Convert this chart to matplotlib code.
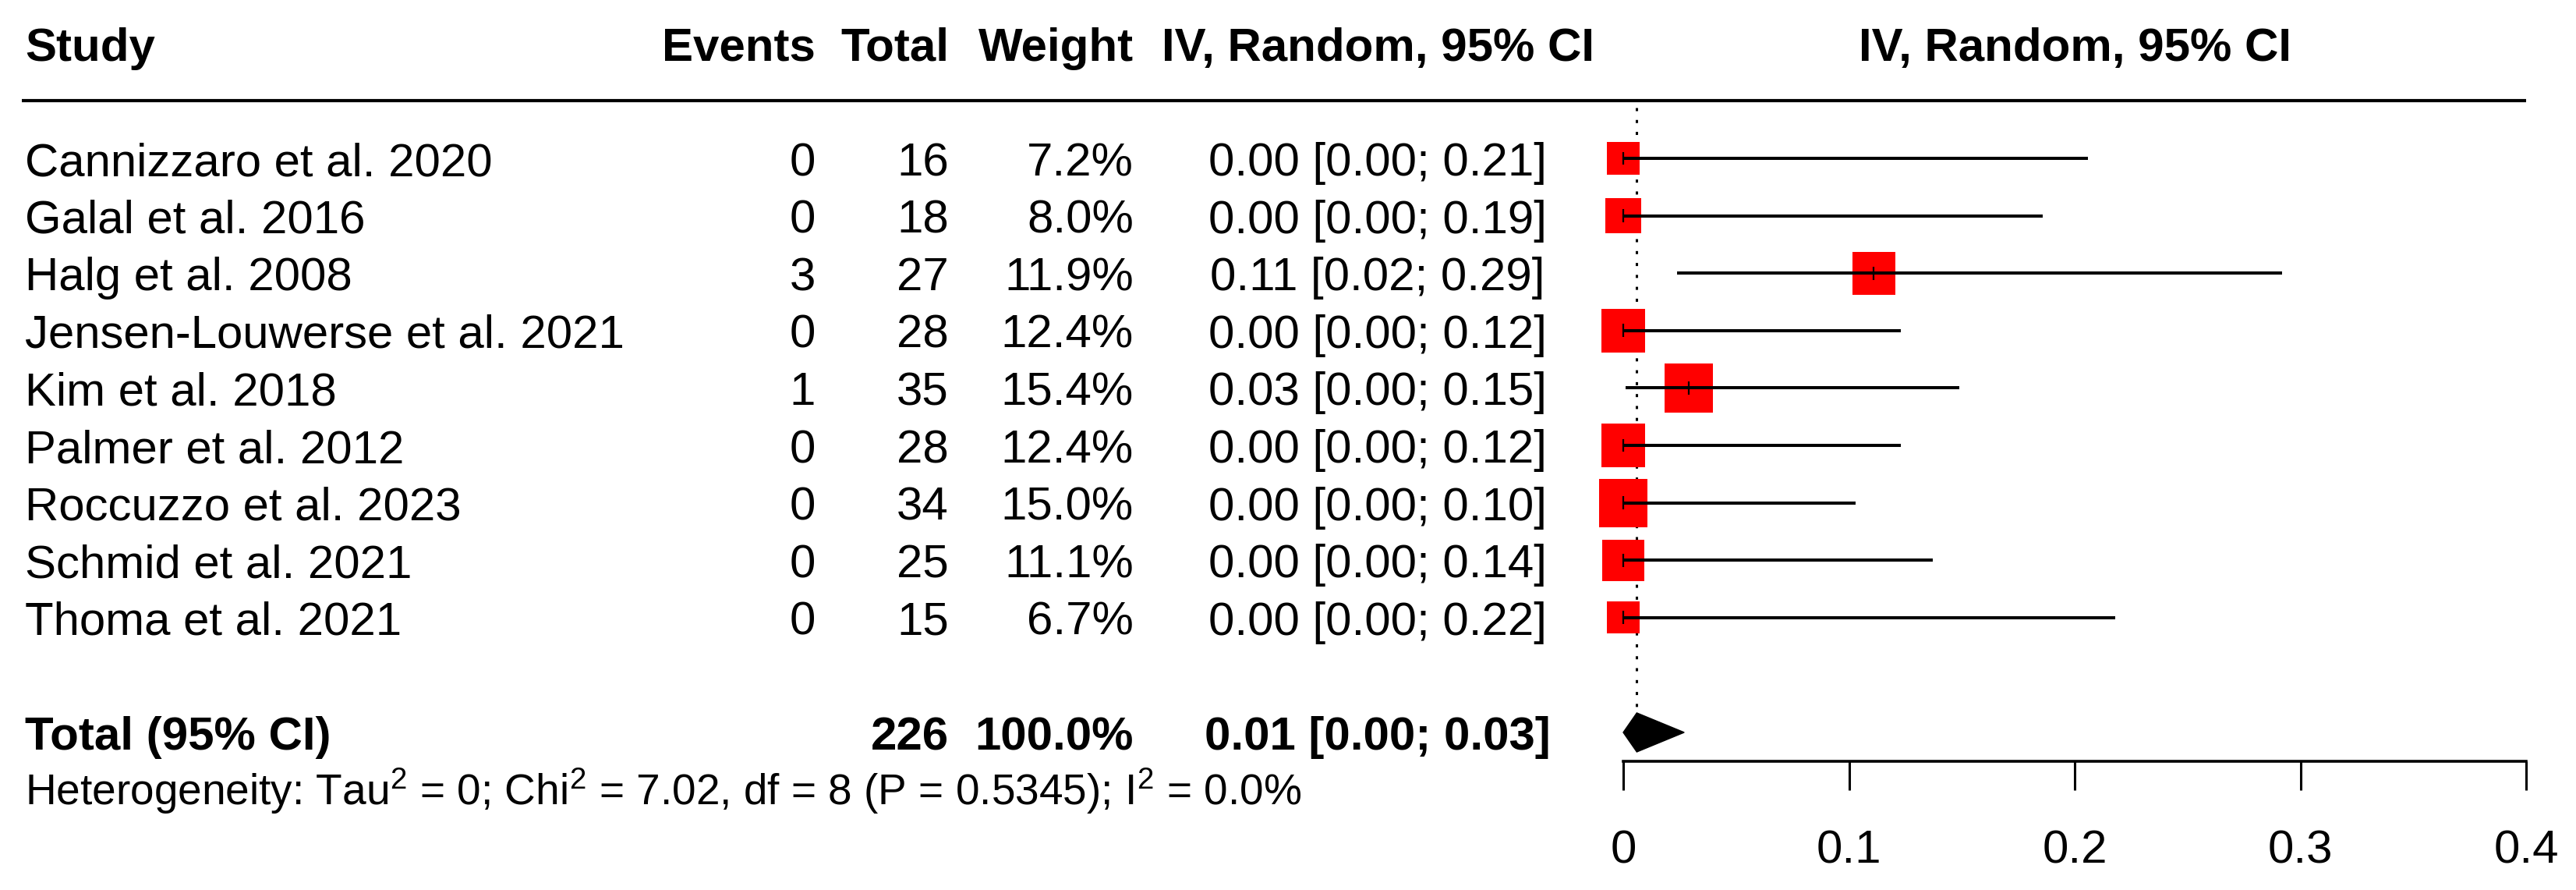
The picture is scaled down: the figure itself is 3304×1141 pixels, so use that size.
import matplotlib
matplotlib.use("Agg")
import matplotlib.pyplot as plt
from matplotlib.patches import Polygon

plt.rcParams['font.family'] = ['Liberation Sans', 'DejaVu Sans']
plt.rcParams['mathtext.fontset'] = 'custom'
plt.rcParams['mathtext.rm'] = 'Liberation Sans'
plt.rcParams['mathtext.it'] = 'Liberation Sans'
plt.rcParams['mathtext.bf'] = 'Liberation Sans:bold'

# datos
studies = ["Cannizzaro et al. 2020", "Galal et al. 2016", "Halg et al. 2008",
           "Jensen-Louwerse et al. 2021", "Kim et al. 2018", "Palmer et al. 2012",
           "Roccuzzo et al. 2023", "Schmid et al. 2021", "Thoma et al. 2021"]
events = [0, 0, 3, 0, 1, 0, 0, 0, 0]
totals = [16, 18, 27, 28, 35, 28, 34, 25, 15]
weights = [7.2, 8.0, 11.9, 12.4, 15.4, 12.4, 15.0, 11.1, 6.7]
est = [0.0, 0.0, 0.111, 0.0, 0.029, 0.0, 0.0, 0.0, 0.0]
lower = [0.0, 0.0, 0.024, 0.0, 0.001, 0.0, 0.0, 0.0, 0.0]
upper = [0.206, 0.186, 0.292, 0.123, 0.149, 0.123, 0.103, 0.137, 0.218]

pooled_est = 0.006
pooled_lower = 0.0
pooled_upper = 0.027
total_n = 226
total_weight = "100.0%"
x_ticks = [0, 0.1, 0.2, 0.3, 0.4]
het_text = r"Heterogeneity: Tau$^2$ = 0; Chi$^2$ = 7.02, df = 8 (P = 0.5345); I$^2$ = 0.0%"

W, H = 3304, 1141
FS = 43.2
FS_HET = 39.6
y_lim = (12.745, -2.758)

fig = plt.figure(figsize=(W / 100, H / 100), dpi=100)

# ejes de la tabla (toda la figura)
ax = fig.add_axes([0, 0, 1, 1])
ax.set_xlim(0, 1)
ax.set_ylim(*y_lim)
ax.axis('off')

# ejes del forest plot
axf = fig.add_axes([2082 / W, 0, 1158 / W, 1])
axf.set_xlim(0, 0.4)
axf.set_ylim(*y_lim)
axf.patch.set_visible(False)
for s in ['top', 'left', 'right']:
    axf.spines[s].set_visible(False)
axf.spines['bottom'].set_position(('data', 10.5))
axf.spines['bottom'].set_linewidth(2.6)
axf.spines['bottom'].set_capstyle('projecting')
axf.set_yticks([])
axf.set_xticks(x_ticks)
axf.set_xticklabels([f"{t:g}" for t in x_ticks])
axf.tick_params(axis='x', direction='out', length=26.5, width=2.2,
                labelsize=FS, pad=37)

rows = list(range(len(studies)))
y_total = len(studies) + 1
off = 0.3

# columnas
x_study = 32 / W
x_events = 1046 / W
x_total = 1217 / W
x_weight = 1454 / W
x_ci = 1767 / W

# encabezado
hy = -2 + off
ax.text(x_study, hy, "Study", fontsize=FS, fontweight='bold', va='baseline', ha='left')
ax.text(x_events, hy, "Events", fontsize=FS, fontweight='bold', va='baseline', ha='right')
ax.text(x_total, hy, "Total", fontsize=FS, fontweight='bold', va='baseline', ha='right')
ax.text(x_weight, hy, "Weight", fontsize=FS, fontweight='bold', va='baseline', ha='right')
ax.text(x_ci, hy, "IV, Random, 95% CI", fontsize=FS, fontweight='bold', va='baseline', ha='center')
axf.text(0.2, hy, "IV, Random, 95% CI", fontsize=FS, fontweight='bold', va='baseline', ha='center')
ax.plot([28 / W, 3240 / W], [-1, -1], color='black', lw=3.0, solid_capstyle='butt')

# filas de estudios
for i in rows:
    y = i + off
    ax.text(x_study, y, studies[i], fontsize=FS, va='baseline', ha='left')
    ax.text(x_events, y, str(events[i]), fontsize=FS, va='baseline', ha='right')
    ax.text(x_total, y, str(totals[i]), fontsize=FS, va='baseline', ha='right')
    ax.text(x_weight, y, f"{weights[i]:.1f}%", fontsize=FS, va='baseline', ha='right')
    ax.text(x_ci, y, f"{est[i]:.2f} [{lower[i]:.2f}; {upper[i]:.2f}]",
            fontsize=FS, va='baseline', ha='center')

# fila total
ty = y_total + off
ax.text(x_study, ty, "Total (95% CI)", fontsize=FS, fontweight='bold', va='baseline', ha='left')
ax.text(x_total, ty, str(total_n), fontsize=FS, fontweight='bold', va='baseline', ha='right')
ax.text(x_weight, ty, total_weight, fontsize=FS, fontweight='bold', va='baseline', ha='right')
ax.text(x_ci, ty, f"{pooled_est:.2f} [{pooled_lower:.2f}; {pooled_upper:.2f}]",
        fontsize=FS, fontweight='bold', va='baseline', ha='center')
ax.text(x_study, y_total + 1 + 0.27, het_text, fontsize=FS_HET, va='baseline', ha='left')

# linea punteada del efecto combinado
axf.plot([pooled_est, pooled_est], [-0.88, y_total - 0.34], color='black', lw=2.2,
         ls=(0, (1.3, 3.7)), zorder=1, clip_on=False)

# cuadrados, intervalos y marcas
axf.scatter(est, rows, s=[132.7 * w for w in weights], marker='s', color='red',
            linewidths=0, zorder=2, clip_on=False)
axf.hlines(rows, lower, upper, color='black', lw=2.9, zorder=3, clip_on=False)
axf.vlines(est, [r - 0.115 for r in rows], [r + 0.115 for r in rows],
           color='black', lw=1.6, zorder=3, clip_on=False)

# diamante
diamond = Polygon([(pooled_lower, y_total), (pooled_est, y_total - 0.34),
                   (pooled_upper, y_total), (pooled_est, y_total + 0.34)],
                  closed=True, color='black', zorder=3, clip_on=False)
axf.add_patch(diamond)

fig.savefig("out.png", dpi=100)
